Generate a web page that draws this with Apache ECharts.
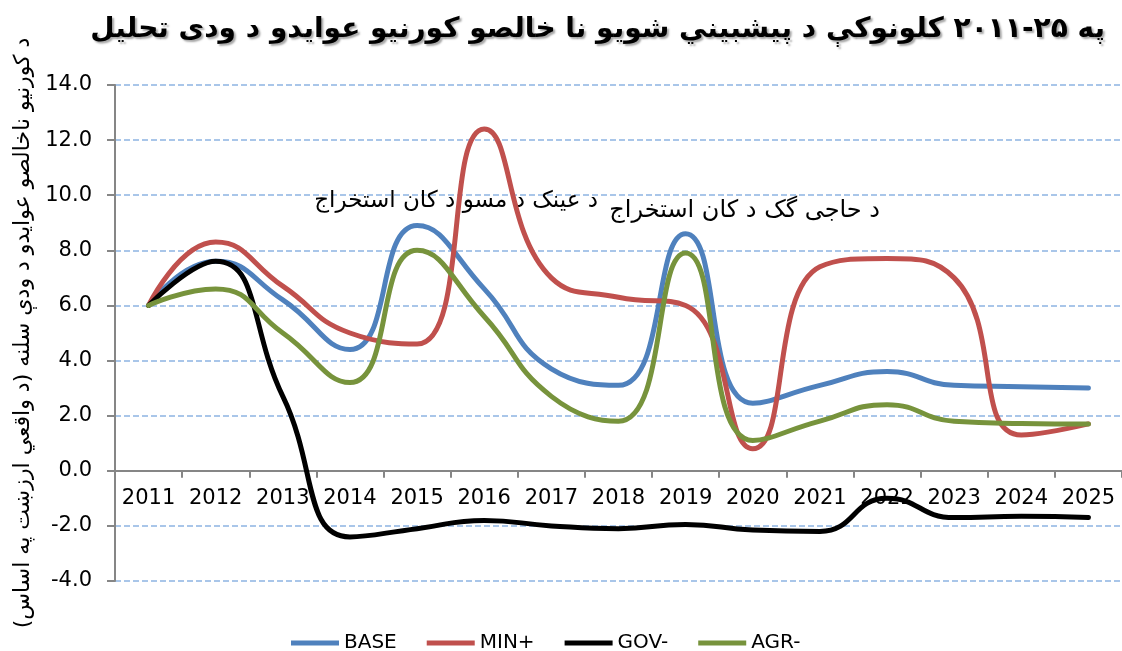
<!DOCTYPE html>
<html>
<head>
<meta charset="utf-8">
<script src="https://cdn.jsdelivr.net/npm/echarts@6/dist/echarts.min.js"></script>
<style>
  html, body { margin: 0; padding: 0; background: #fff; }
  #chart { width: 1122px; height: 651px; }
</style>
</head>
<body>
<div id="chart"></div>
<script>
// years on the category axis
let years = ['2011', '2012', '2013', '2014', '2015', '2016', '2017', '2018',
             '2019', '2020', '2021', '2022', '2023', '2024', '2025'];

// growth of gross domestic income, %
let baseData = [6.0, 7.6, 6.2, 4.4, 8.9, 6.6, 3.7, 3.1, 8.6, 2.45, 3.1, 3.6, 3.1, 3.05, 3.0];
let minData  = [6.0, 8.3, 6.7, 5.0, 4.6, 12.4, 7.0, 6.3, 6.0, 0.8, 7.4, 7.7, 7.0, 1.3, 1.7];
let govData  = [6.0, 7.6, 2.7, -2.4, -2.1, -1.8, -2.0, -2.1, -1.95, -2.15, -2.2, -1.0, -1.7, -1.65, -1.7];
let agrData  = [6.0, 6.6, 5.0, 3.2, 8.0, 5.6, 2.7, 1.8, 7.9, 1.1, 1.8, 2.4, 1.8, 1.72, 1.7];

// value axis range
let yMin = -4, yMax = 14, yStep = 2;

let seriesNames = ['BASE', 'MIN+', 'GOV-', 'AGR-'];
let seriesColors = ['#4F81BD', '#C0504D', '#000000', '#77933C'];

let titleText = 'په ۲۵-۲۰۱۱ کلونوکې د پیشبیني شویو نا خالصو کورنیو عوایدو د ودی تحلیل';
let yName = 'د کورنیو ناخالصو عوایدو د ودې سلنه (د واقعي ارزښت په اساس)';
let note1 = 'د عینک د مسو د کان استخراج';
let note2 = 'د حاجی گک د کان استخراج';

function getOption() {
    let gridHeight = 496;
    // put the category axis on the zero line
    let zeroOffset = -(0 - yMin) / (yMax - yMin) * gridHeight;

    let option = {
        animation: false,
        title: {
            text: titleText,
            right: 12,
            top: 11,
            textStyle: {
                fontFamily: 'DejaVu Sans',
                fontWeight: 'bold',
                fontSize: 28,
                color: '#000',
                textShadowColor: 'rgba(0,0,0,0.35)',
                textShadowOffsetX: 2,
                textShadowOffsetY: 2,
                textShadowBlur: 2,
            },
        },
        grid: {
            left: 115,
            top: 85,
            width: 1009,
            height: gridHeight,
        },
        legend: {
            data: seriesNames,
            left: 286,
            top: 628,
            icon: 'rect',
            itemWidth: 48,
            itemHeight: 5,
            itemGap: 30,
            textStyle: {
                fontFamily: 'DejaVu Sans',
                fontSize: 20,
                color: '#000',
            },
        },
        xAxis: {
            type: 'category',
            data: years,
            boundaryGap: true,
            position: 'bottom',
            offset: zeroOffset,
            axisLine: { onZero: false, lineStyle: { color: '#868686', width: 2 } },
            axisTick: { show: true, length: 7, lineStyle: { color: '#868686', width: 2 } },
            axisLabel: {
                interval: 0,
                margin: 17,
                fontFamily: 'DejaVu Sans',
                fontSize: 21,
                color: '#000',
            },
        },
        yAxis: {
            type: 'value',
            min: yMin,
            max: yMax,
            interval: yStep,
            name: yName,
            nameLocation: 'middle',
            nameGap: 80,
            nameTextStyle: {
                fontFamily: 'DejaVu Sans',
                fontSize: 22,
                color: '#000',
            },
            axisLine: { show: true, lineStyle: { color: '#868686', width: 2 } },
            axisTick: { show: true, length: 8, lineStyle: { color: '#868686', width: 2 } },
            axisLabel: {
                margin: 23,
                fontFamily: 'DejaVu Sans',
                fontSize: 21,
                color: '#000',
                formatter: (v) => v.toFixed(1),
            },
            splitLine: {
                lineStyle: { color: '#8DB4E2', width: 1.5, type: [6, 3] },
            },
        },
        graphic: [
            {
                type: 'text',
                x: 598,
                y: 190,
                style: {
                    text: note1,
                    align: 'right',
                    font: '23px "DejaVu Sans"',
                    fill: '#000',
                },
                z: 1,
            },
            {
                type: 'text',
                x: 880,
                y: 199,
                style: {
                    text: note2,
                    align: 'right',
                    font: '24px "DejaVu Sans"',
                    fill: '#000',
                },
                z: 1,
            },
        ],
        series: [],
    };

    let allData = [baseData, minData, govData, agrData];
    for (let i = 0; i < seriesNames.length; i++) {
        option.series.push({
            name: seriesNames[i],
            type: 'line',
            data: allData[i],
            smooth: 0.5,
            showSymbol: false,
            symbol: 'none',
            color: seriesColors[i],
            lineStyle: { width: 5, color: seriesColors[i], cap: 'round' },
            z: 3,
        });
    }
    return option;
}

let myChart = echarts.init(document.getElementById('chart'));
myChart.setOption(getOption());
</script>
</body>
</html>
